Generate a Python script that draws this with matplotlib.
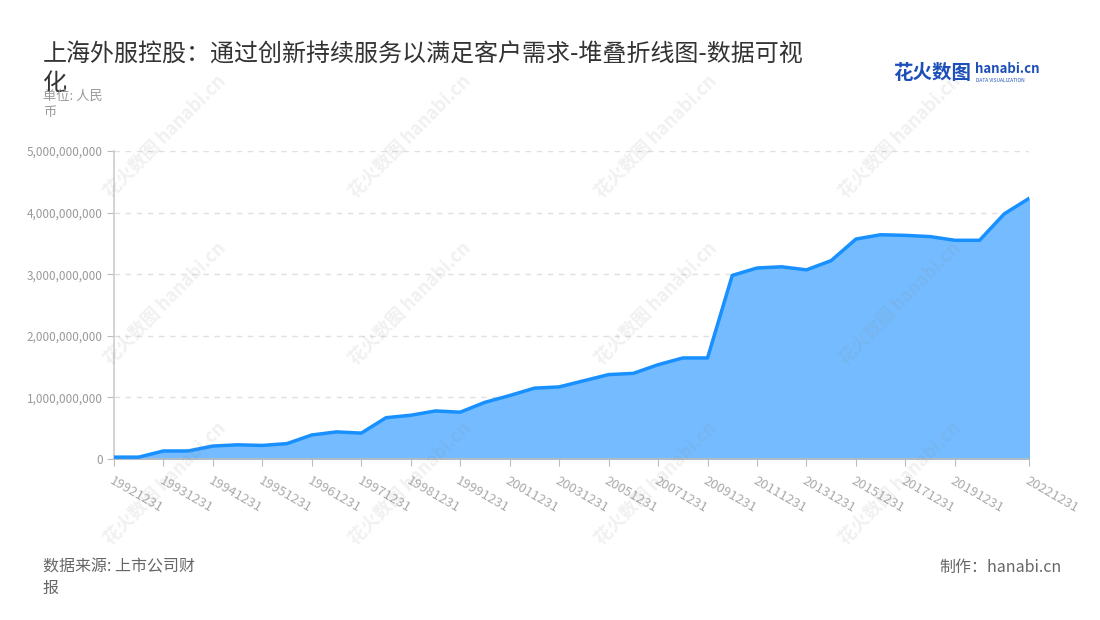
import matplotlib.pyplot as plt
from matplotlib.ticker import FuncFormatter

plt.rcParams['font.family'] = ['Noto Sans CJK SC', 'DejaVu Sans']

# 数据
dates = ['19921231', '19930630', '19931231', '19940630', '19941231', '19950630',
         '19951231', '19960630', '19961231', '19970630', '19971231', '19980630',
         '19981231', '19990630', '19991231', '20001231', '20011231', '20021231',
         '20031231', '20041231', '20051231', '20061231', '20071231', '20081231',
         '20091231', '20101231', '20111231', '20121231', '20131231', '20141231',
         '20151231', '20161231', '20171231', '20181231', '20191231', '20201231',
         '20211231', '20221231']
values = [0.03e9, 0.03e9, 0.13e9, 0.13e9, 0.21e9, 0.23e9, 0.22e9, 0.25e9,
          0.39e9, 0.44e9, 0.42e9, 0.67e9, 0.71e9, 0.78e9, 0.76e9, 0.92e9,
          1.03e9, 1.15e9, 1.17e9, 1.27e9, 1.37e9, 1.39e9, 1.53e9, 1.64e9,
          1.64e9, 2.98e9, 3.10e9, 3.12e9, 3.07e9, 3.22e9, 3.57e9, 3.64e9,
          3.63e9, 3.61e9, 3.55e9, 3.55e9, 3.98e9, 4.23e9]
yticks = [0, 1e9, 2e9, 3e9, 4e9, 5e9]

fig = plt.figure(figsize=(11, 6.2), dpi=100)
ax = fig.add_axes([0.1036, 0.2597, 0.8319, 0.4968])

x = list(range(len(dates)))
ax.fill_between(x, values, color='#74bcff', zorder=2)
ax.plot(x, values, color='#1890ff', lw=2.5, zorder=3)

ax.set_xlim(0, len(dates) - 1)
ax.set_ylim(0, 5e9)
ax.set_yticks(yticks)
ax.yaxis.set_major_formatter(FuncFormatter(lambda v, p: f'{int(v):,}'))
ax.grid(axis='y', color='#e0e0e0', ls=(0, (4, 4)), lw=1, zorder=1)

# x轴标签: 每隔一个显示, 最后一个也显示
tick_idx = list(range(0, 35, 2)) + [len(dates) - 1]
ax.set_xticks(tick_idx)
ax.set_xticklabels([dates[i] for i in tick_idx], rotation=-30, ha='left', va='top',
                   rotation_mode='anchor', color='#aaaaaa', fontsize=9.5)
ax.tick_params(axis='x', length=5, color='#bbbbbb', pad=6)
ax.tick_params(axis='y', length=5, color='#bbbbbb', labelcolor='#999999', labelsize=8.5, pad=3)

for s in ['top', 'right']:
    ax.spines[s].set_visible(False)
ax.spines['left'].set_color('#cccccc')
ax.spines['bottom'].set_color('#bbbbbb')
ax.spines['left'].set_linewidth(1.2)
ax.spines['bottom'].set_linewidth(1.2)

# 标题
fig.text(0.039, 0.889, '上海外服控股：通过创新持续服务以满足客户需求-堆叠折线图-数据可视\n化',
         fontsize=17.3, color='#333333', va='center', linespacing=1.1)
fig.text(0.039, 0.831, '单位: 人民\n币', fontsize=9.5, color='#999999', va='center', linespacing=1.3)

# 脚注
fig.text(0.039, 0.068, '数据来源: 上市公司财\n报', fontsize=11.5, color='#666666', va='center', linespacing=1.3)
fig.text(0.965, 0.085, '制作：hanabi.cn', fontsize=11.5, color='#666666', va='center', ha='right')

# logo
fig.text(0.812, 0.882, '花火数图', fontsize=14, color='#1d4fb8', fontweight='bold', va='center')
fig.text(0.886, 0.888, 'hanabi.cn', fontsize=9.5, color='#1d4fb8', fontweight='bold', va='center')
fig.text(0.887, 0.870, 'DATA VISUALIZATION', fontsize=3.5, color='#1d4fb8', va='center')

# 水印
for wx in [0.15, 0.373, 0.596, 0.818]:
    for wy in [0.78, 0.51, 0.22]:
        fig.text(wx, wy, '花火数图 hanabi.cn', fontsize=13, color='#888888', alpha=0.12,
                 rotation=45, ha='center', va='center', fontweight='bold')

fig.savefig('out.png', dpi=100)
